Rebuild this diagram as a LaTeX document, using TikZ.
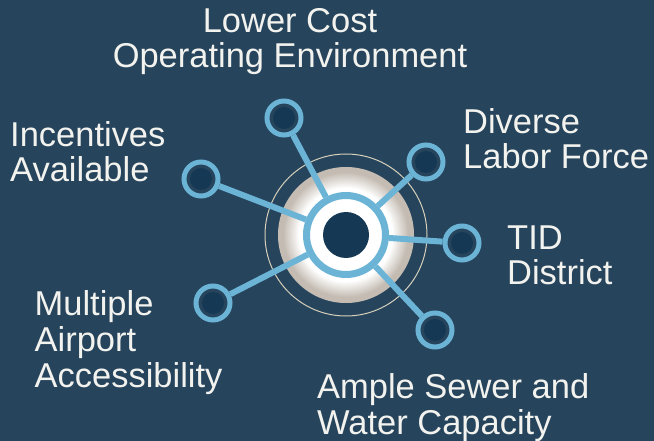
\documentclass[tikz,border=0pt]{standalone}
\usepackage{fontspec}
\setmainfont{Liberation Sans}
\usepackage{tikz}
\definecolor{backColor}{RGB}{38,68,92}
\definecolor{spokeColor}{RGB}{108,180,214}
\definecolor{coreColor}{RGB}{21,57,84}
\definecolor{haloColor}{RGB}{214,208,186}
\definecolor{glowColor}{RGB}{196,188,178}
\definecolor{labelColor}{RGB}{242,242,238}
\tikzstyle{hubStyle} = [circle, draw=spokeColor, fill=white, line width=7bp, minimum size=79bp, inner sep=0pt,
  path picture={\fill[coreColor] (path picture bounding box.center) circle (23bp);}]
\tikzstyle{spokeEnd} = [circle, draw=spokeColor, fill=backColor, line width=5bp, minimum size=34bp, inner sep=0pt,
  path picture={\fill[coreColor] (path picture bounding box.center) circle (11bp);}]
\tikzstyle{spokeLine} = [draw=spokeColor, line width=6bp]
\tikzstyle{labelText} = [text=labelColor, inner sep=0pt, font=\fontsize{34.6}{36.1}\selectfont]
\newcommand{\glowDisk}[1]{
  \foreach \radius in {68,67.5,...,44} {
    \pgfmathsetmacro{\whiteShare}{min(100,max(0,(63-\radius)/16*100))}
    \fill[white!\whiteShare!glowColor] (#1) circle (\radius bp);
  }
}

\begin{document}
\begin{tikzpicture}[x=1bp, y=-1bp]
        \fill[backColor] (0,0) rectangle (654,441);
        \useasboundingbox (0,0) rectangle (654,441);

        % glow behind the hub
        \coordinate (hubCenter) at (346,235);
        \draw[haloColor, line width=1bp] (hubCenter) circle (81bp);
        \glowDisk{hubCenter}

        \node[hubStyle] (hub) at (hubCenter) {};
        \node[spokeEnd] (costEnd) at (284,118) {};
        \node[spokeEnd] (incentEnd) at (201,179) {};
        \node[spokeEnd] (laborEnd) at (426,162) {};
        \node[spokeEnd] (tidEnd) at (462,243) {};
        \node[spokeEnd] (airportEnd) at (213,303) {};
        \node[spokeEnd] (waterEnd) at (435,330) {};
        \foreach \spoke in {costEnd, incentEnd, laborEnd, tidEnd, airportEnd, waterEnd}
          \draw[spokeLine] (hub) -- (\spoke);

        % labels (anchored on the last baseline)
        \node[labelText, align=center, anchor=base] (costText) at (290,68) {Lower Cost\\Operating Environment};
        \node[labelText, align=left, anchor=base west] (incentText) at (10,182) {Incentives\\Available};
        \node[labelText, align=left, anchor=base west] (laborText) at (463,169) {Diverse\\Labor Force};
        \node[labelText, align=left, anchor=base west] (tidText) at (507,285) {TID\\District};
        \node[labelText, align=left, anchor=base west] (airportText) at (34.5,387) {Multiple\\Airport\\Accessibility};
        \node[labelText, align=left, anchor=base west] (waterText) at (317,434) {Ample Sewer and\\Water Capacity};
\end{tikzpicture}
\end{document}
